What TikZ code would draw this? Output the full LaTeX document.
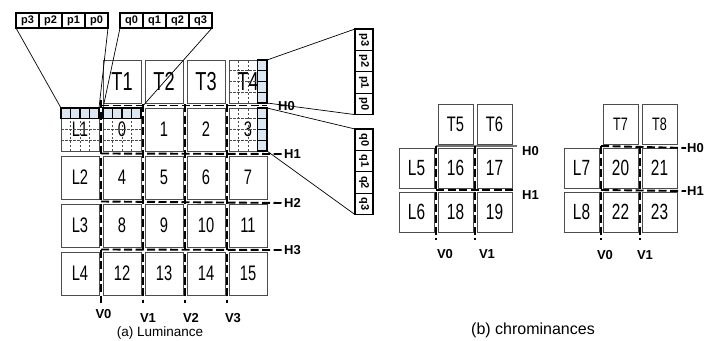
\documentclass[tikz,border=0pt]{standalone}
\usepackage{fontspec}
\setmainfont{Liberation Sans}
\newfontfamily\cellfont[FakeStretch=0.7]{Liberation Sans}
\usepackage{tikz}
\usetikzlibrary{positioning}
\definecolor{pixblue}{RGB}{221,230,243}

\begin{document}
\begin{tikzpicture}[
    x=1pt, y=1pt,
    node distance=5pt and 4pt,
    blk/.style={rectangle, draw=black!70, line width=0.8pt, outer sep=0pt, inner sep=0pt,
        minimum width=38pt, minimum height=43pt, font=\cellfont\fontsize{21}{21}\selectfont},
    tblk/.style={blk, font=\cellfont\fontsize{26}{26}\selectfont},
    cblk/.style={blk, minimum width=35pt, minimum height=40pt, font=\cellfont\fontsize{22}{22}\selectfont},
    pq/.style={rectangle, draw, line width=1.2pt, outer sep=0pt, inner sep=0pt,
        minimum width=23pt, minimum height=15pt, font=\bfseries\fontsize{11}{11}\selectfont},
    pqv/.style={pq, minimum width=18pt, minimum height=21.4pt},
    lbl/.style={font=\bfseries\fontsize{13}{13}\selectfont, inner sep=1pt},
    sep/.style={line width=1.9pt, dash pattern=on 8pt off 3.5pt},
    pgrid/.style={draw=black!70, dash pattern=on 2.5pt off 1.5pt, line width=0.6pt},
    pix/.style={draw, line width=1.1pt, fill=pixblue},
    link/.style={line width=0.7pt}
]
    \useasboundingbox (0,0) rectangle (719,-340);

    % luminance macroblock and its neighbours
    \node[blk] (L1) at (80,-129.5) {L1};
    \node[blk, right=of L1] (n0) {0};
    \node[blk, right=of n0] (n1) {1};
    \node[blk, right=of n1] (n2) {2};
    \node[blk, right=of n2] (n3) {3};
    \node[tblk, above=of n0] (T1) {T1};
    \node[tblk, above=of n1] (T2) {T2};
    \node[tblk, above=of n2] (T3) {T3};
    \node[tblk, above=of n3] (T4) {T4};
    \node[blk, below=of L1] (L2) {L2};
    \node[blk, right=of L2] (n4) {4};
    \node[blk, right=of n4] (n5) {5};
    \node[blk, right=of n5] (n6) {6};
    \node[blk, right=of n6] (n7) {7};
    \node[blk, below=of L2] (L3) {L3};
    \node[blk, right=of L3] (n8) {8};
    \node[blk, right=of n8] (n9) {9};
    \node[blk, right=of n9] (n10) {10};
    \node[blk, right=of n10] (n11) {11};
    \node[blk, below=of L3] (L4) {L4};
    \node[blk, right=of L4] (n12) {12};
    \node[blk, right=of n12] (n13) {13};
    \node[blk, right=of n13] (n14) {14};
    \node[blk, right=of n14] (n15) {15};

    % 4x4 pixels of the blocks on the edges
    \draw[pgrid, shift={(L1.south west)}] (0,0) grid[xstep=9.5, ystep=10.75] (38,43);
    \draw[pgrid, shift={(n0.south west)}] (0,0) grid[xstep=9.5, ystep=10.75] (38,43);
    \draw[pgrid, shift={(T4.south west)}] (0,0) grid[xstep=9.5, ystep=10.75] (38,43);
    \draw[pgrid, shift={(n3.south west)}] (0,0) grid[xstep=9.5, ystep=10.75] (38,43);
    \filldraw[pix, shift={(L1.north west)}] (0,-10.75) rectangle (38,0);
    \draw[pix, fill=none, shift={(L1.north west)}] (0,-10.75) grid[xstep=9.5, ystep=10.75] (38,0);
    \filldraw[pix, shift={(n0.north west)}] (0,-10.75) rectangle (38,0);
    \draw[pix, fill=none, shift={(n0.north west)}] (0,-10.75) grid[xstep=9.5, ystep=10.75] (38,0);
    \filldraw[pix, shift={(T4.north east)}] (-9.5,-43) rectangle (0,0);
    \draw[pix, fill=none, shift={(T4.north east)}] (-9.5,-43) grid[xstep=9.5, ystep=10.75] (0,0);
    \filldraw[pix, shift={(n3.north east)}] (-9.5,-43) rectangle (0,0);
    \draw[pix, fill=none, shift={(n3.north east)}] (-9.5,-43) grid[xstep=9.5, ystep=10.75] (0,0);

    % edge samples, horizontal
    \node[pq] (p3) at (27.5,-20.5) {p3};
    \node[pq, right=0pt of p3] (p2) {p2};
    \node[pq, right=0pt of p2] (p1) {p1};
    \node[pq, right=0pt of p1] (p0) {p0};
    \node[pq] (q0) at (131.5,-20.5) {q0};
    \node[pq, right=0pt of q0] (q1) {q1};
    \node[pq, right=0pt of q1] (q2) {q2};
    \node[pq, right=0pt of q2] (q3) {q3};
    \draw[link] (p3.south west) -- (L1.north west);
    \draw[link] (p0.south east) -- (L1.north east);
    \draw[link] (q0.south west) -- (n0.north west);
    \draw[link] (q3.south east) -- (n0.north east);

    % edge samples, vertical
    \node[pqv] (rp3) at (364,-39.7) {\rotatebox[origin=c]{-90}{p3}};
    \node[pqv, below=0pt of rp3] (rp2) {\rotatebox[origin=c]{-90}{p2}};
    \node[pqv, below=0pt of rp2] (rp1) {\rotatebox[origin=c]{-90}{p1}};
    \node[pqv, below=0pt of rp1] (rp0) {\rotatebox[origin=c]{-90}{p0}};
    \node[pqv] (rq0) at (364,-139.7) {\rotatebox[origin=c]{-90}{q0}};
    \node[pqv, below=0pt of rq0] (rq1) {\rotatebox[origin=c]{-90}{q1}};
    \node[pqv, below=0pt of rq1] (rq2) {\rotatebox[origin=c]{-90}{q2}};
    \node[pqv, below=0pt of rq2] (rq3) {\rotatebox[origin=c]{-90}{q3}};
    \draw[link] (rp3.north west) -- (T4.north east);
    \draw[link] (rp0.south west) -- (T4.south east);
    \draw[link] (rq0.north west) -- (n3.north east);
    \draw[link] (rq3.south west) -- (n3.south east);

    % horizontal edges
    \node[lbl, anchor=west] (H0) at (277,-106) {H0};
    \node[lbl, anchor=west] (H1) at (283,-154) {H1};
    \node[lbl, anchor=west] (H2) at (283,-203) {H2};
    \node[lbl, anchor=west] (H3) at (283,-250) {H3};
    \draw[sep] ([xshift=-2pt,yshift=2.5pt]n0.north west) -- ([yshift=2.5pt]n3.north east);
    \draw[sep] ([xshift=-2pt,yshift=2.5pt]n4.north west) -- (H1.west);
    \draw[sep] ([xshift=-2pt,yshift=2.5pt]n8.north west) -- (H2.west);
    \draw[sep] ([xshift=-2pt,yshift=2.5pt]n12.north west) -- (H3.west);

    % vertical edges
    \node[lbl] (V0) at (103.5,-314) {V0};
    \node[lbl] (V1) at (148,-318) {V1};
    \node[lbl] (V2) at (191,-318) {V2};
    \node[lbl] (V3) at (233,-318) {V3};
    \coordinate (vend) at ([yshift=-8pt]n12.south);
    \coordinate (v0) at ([xshift=-2pt,yshift=8pt]n0.north west);
    \coordinate (v1) at ([xshift=-2pt,yshift=4pt]n1.north west);
    \coordinate (v2) at ([xshift=-2pt,yshift=4pt]n2.north west);
    \coordinate (v3) at ([xshift=-2pt,yshift=4pt]n3.north west);
    \draw[sep] (v0) -- (v0 |- vend);
    \draw[sep] (v1) -- (v1 |- vend);
    \draw[sep] (v2) -- (v2 |- vend);
    \draw[sep] (v3) -- (v3 |- vend);

    \node[font=\fontsize{13.5}{13.5}\selectfont] (lumcap) at (160,-333.5) {(a) Luminance};

    % first chrominance block
    \node[cblk] (L5) at (416.5,-168) {L5};
    \node[cblk, right=of L5] (c16) {16};
    \node[cblk, right=of c16] (c17) {17};
    \node[cblk, above=4pt of c16, font=\cellfont\fontsize{21}{21}\selectfont] (T5) {T5};
    \node[cblk, above=4pt of c17, font=\cellfont\fontsize{21}{21}\selectfont] (T6) {T6};
    \node[cblk, below=4pt of L5] (L6) {L6};
    \node[cblk, right=of L6] (c18) {18};
    \node[cblk, right=of c18] (c19) {19};

    \node[lbl, anchor=west] (cbH0) at (521,-151) {H0};
    \node[lbl, anchor=west] (cbH1) at (521,-195) {H1};
    \draw[black!55, line width=1.2pt] ([xshift=-2pt,yshift=2pt]c16.north west) -- ([xshift=5pt,yshift=2pt]c17.north east);
    \draw[sep] ([xshift=-2pt,yshift=2pt]c18.north west) -- ([xshift=4pt,yshift=2pt]c19.north east);
    \node[lbl] (cbV0) at (445,-254) {V0};
    \node[lbl] (cbV1) at (487,-254) {V1};
    \coordinate (cbend) at ([yshift=-8pt]c18.south);
    \coordinate (cb0) at ([xshift=-2pt,yshift=2pt]c16.north west);
    \coordinate (cb1) at ([xshift=-2pt,yshift=2pt]c17.north west);
    \draw[sep] (cb0) -- (cb0 |- cbend);
    \draw[sep] (cb1) -- (cb1 |- cbend);

    % second chrominance block
    \node[cblk] (L7) at (581.5,-168) {L7};
    \node[cblk, right=of L7] (c20) {20};
    \node[cblk, right=of c20] (c21) {21};
    \node[cblk, above=4pt of c20, font=\cellfont\fontsize{18}{18}\selectfont] (T7) {T7};
    \node[cblk, above=4pt of c21, font=\cellfont\fontsize{18}{18}\selectfont] (T8) {T8};
    \node[cblk, below=4pt of L7] (L8) {L8};
    \node[cblk, right=of L8] (c22) {22};
    \node[cblk, right=of c22] (c23) {23};

    \node[lbl, anchor=west] (crH0) at (686,-148) {H0};
    \node[lbl, anchor=west] (crH1) at (686,-191) {H1};
    \draw[sep] ([xshift=-2pt,yshift=2pt]c20.north west) -- (crH0.west);
    \draw[sep] ([xshift=-2pt,yshift=2pt]c22.north west) -- (crH1.west);
    \node[lbl] (crV0) at (605,-255) {V0};
    \node[lbl] (crV1) at (645,-255) {V1};
    \coordinate (crend) at ([yshift=-8pt]c22.south);
    \coordinate (cr0) at ([xshift=-2pt,yshift=2pt]c20.north west);
    \coordinate (cr1) at ([xshift=-2pt,yshift=2pt]c21.north west);
    \draw[sep] (cr0) -- (cr0 |- crend);
    \draw[sep] (cr1) -- (cr1 |- crend);

    \node[font=\fontsize{16}{16}\selectfont] (chrcap) at (533,-330) {(b) chrominances};
\end{tikzpicture}
\end{document}
